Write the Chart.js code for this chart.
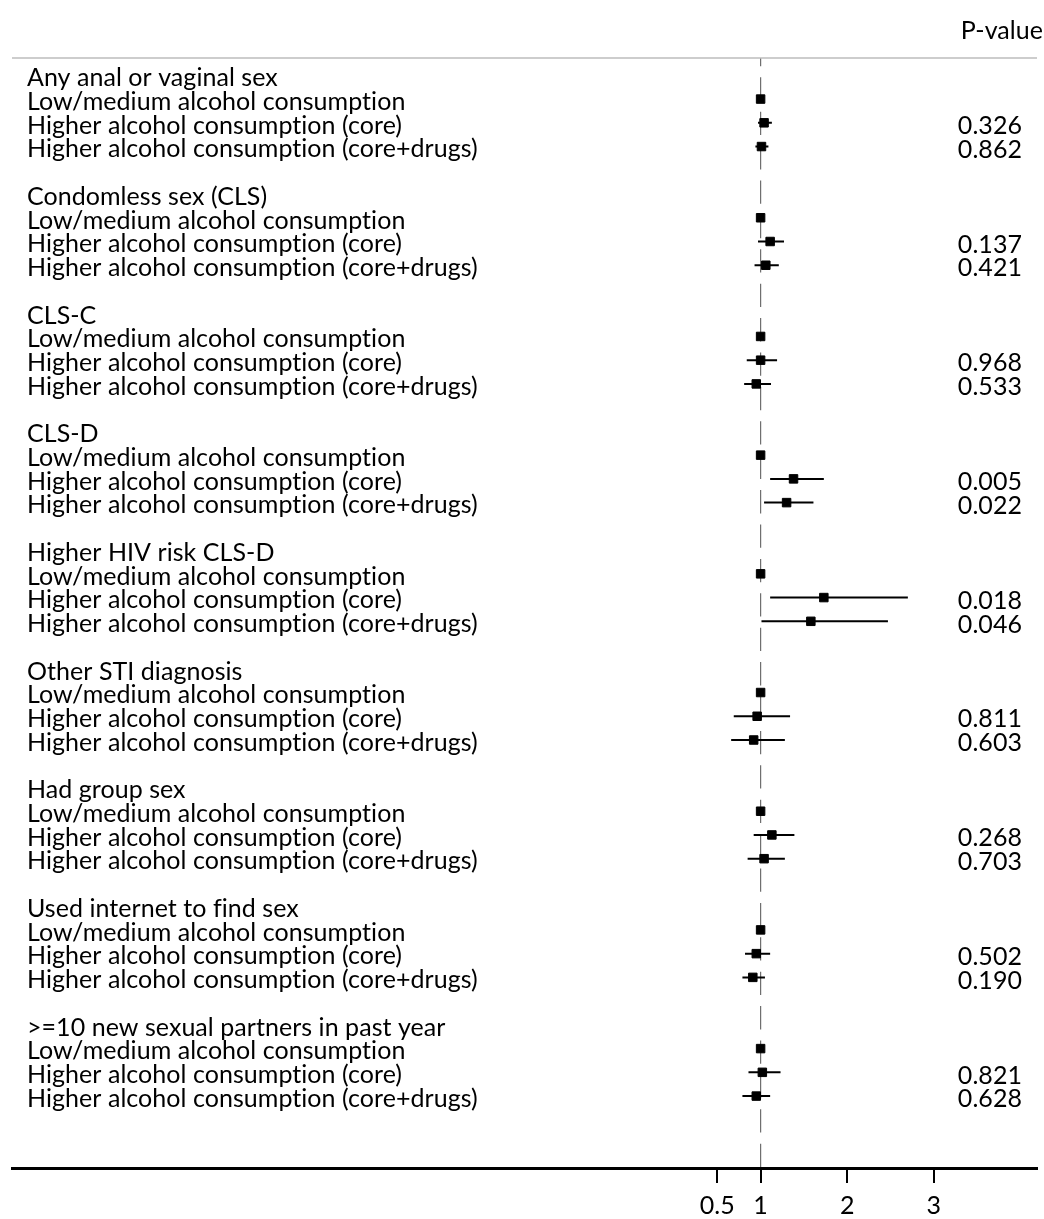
<!DOCTYPE html>
<html>
<head>
<meta charset="utf-8">
<script src="https://cdn.jsdelivr.net/npm/chart.js@4/dist/chart.umd.min.js"></script>
<style>
  html, body { margin: 0; padding: 0; background: #fff; }
  canvas { display: block; }
</style>
</head>
<body>
<canvas id="forest" width="1044" height="1219"></canvas>
<script>
// outcomes (one block of rows each) and the three exposure rows
const outcomes = ['Any anal or vaginal sex', 'Condomless sex (CLS)', 'CLS-C', 'CLS-D',
    'Higher HIV risk CLS-D', 'Other STI diagnosis', 'Had group sex',
    'Used internet to find sex', '>=10 new sexual partners in past year'];
const exposures = ['Low/medium alcohol consumption', 'Higher alcohol consumption (core)',
    'Higher alcohol consumption (core+drugs)'];

// reference category
const refOR = 1;

// higher alcohol consumption (core)
const orCore = [1.04, 1.11, 1.00, 1.38, 1.73, 0.96, 1.13, 0.95, 1.02];
const loCore = [0.97, 0.97, 0.84, 1.11, 1.11, 0.69, 0.92, 0.82, 0.86];
const hiCore = [1.13, 1.27, 1.19, 1.73, 2.70, 1.34, 1.39, 1.11, 1.23];
const pCore = ['0.326', '0.137', '0.968', '0.005', '0.018', '0.811', '0.268', '0.502', '0.821'];

// higher alcohol consumption (core+drugs)
const orDrugs = [1.01, 1.06, 0.95, 1.30, 1.58, 0.92, 1.04, 0.91, 0.95];
const loDrugs = [0.94, 0.93, 0.81, 1.04, 1.01, 0.66, 0.85, 0.79, 0.79];
const hiDrugs = [1.09, 1.21, 1.12, 1.61, 2.47, 1.28, 1.28, 1.05, 1.11];
const pDrugs = ['0.862', '0.421', '0.533', '0.022', '0.046', '0.603', '0.703', '0.190', '0.628'];

const xTicks = [0.5, 1, 2, 3];
const pHeader = 'P-value';

const ROWS_PER_BLOCK = 5;
const Y_MIN = -0.73;
const Y_MAX = 46.03;
const FONT = '25px Lato';

let rowOf = function (g, k) {
    return g * ROWS_PER_BLOCK + k;
};

let markers = [];
let ciLines = [];
outcomes.forEach(function (name, g) {
    markers.push({x: refOR, y: rowOf(g, 1)});
    markers.push({x: orCore[g], y: rowOf(g, 2)});
    markers.push({x: orDrugs[g], y: rowOf(g, 3)});
    ciLines.push({x: loCore[g], y: rowOf(g, 2)}, {x: hiCore[g], y: rowOf(g, 2)}, {x: null, y: null});
    ciLines.push({x: loDrugs[g], y: rowOf(g, 3)}, {x: hiDrugs[g], y: rowOf(g, 3)}, {x: null, y: null});
});

// row labels, p-values, header and the grey top rule
const textPlugin = {
    id: 'forestText',
    afterDraw: function (chart) {
        let ctx = chart.ctx;
        let yScale = chart.scales.y;
        let area = chart.chartArea;
        ctx.save();
        ctx.strokeStyle = '#bdbdbd';
        ctx.lineWidth = 1.6;
        ctx.beginPath();
        ctx.moveTo(area.left, area.top);
        ctx.lineTo(area.right, area.top);
        ctx.stroke();

        ctx.fillStyle = '#000';
        ctx.font = FONT;
        ctx.letterSpacing = '0.05px';   // no ligatures
        ctx.textBaseline = 'alphabetic';
        ctx.textAlign = 'right';
        ctx.fillText(pHeader, 1043, 39);

        outcomes.forEach(function (name, g) {
            ctx.textAlign = 'left';
            ctx.fillText(name, 27, yScale.getPixelForValue(rowOf(g, 0)) + 10.8);
            exposures.forEach(function (lab, k) {
                ctx.fillText(lab, 27, yScale.getPixelForValue(rowOf(g, k + 1)) + 10.8);
            });
            ctx.textAlign = 'right';
            ctx.fillText(pCore[g], 1022, yScale.getPixelForValue(rowOf(g, 2)) + 11.2);
            ctx.fillText(pDrugs[g], 1022, yScale.getPixelForValue(rowOf(g, 3)) + 11.2);
        });
        ctx.restore();
    }
};

let chart = new Chart(document.getElementById('forest').getContext('2d'), {
    type: 'scatter',
    data: {
        datasets: [
            {
                label: 'OR',
                data: markers,
                pointStyle: 'rect',
                pointRadius: 6,
                pointBorderWidth: 1,
                pointBackgroundColor: '#000',
                pointBorderColor: '#000',
                showLine: false
            },
            {
                label: 'CI',
                data: ciLines,
                showLine: true,
                spanGaps: false,
                borderColor: '#000',
                borderWidth: 2,
                pointRadius: 0
            },
            {
                label: 'null',
                data: [{x: refOR, y: Y_MIN}, {x: refOR, y: Y_MAX}],
                showLine: true,
                borderColor: '#6e6e6e',
                borderWidth: 1.2,
                borderDash: [23.3, 11.1],
                borderDashOffset: 15.1,
                pointRadius: 0
            }
        ]
    },
    options: {
        responsive: false,
        animation: false,
        layout: {padding: {left: 12, top: 58, right: 0, bottom: 0}},
        plugins: {legend: {display: false}, tooltip: {enabled: false}},
        scales: {
            x: {
                type: 'linear',
                min: -7.643,
                max: 4.191,
                afterBuildTicks: function (scale) {
                    scale.ticks = xTicks.map(function (v) { return {value: v}; });
                },
                afterFit: function (scale) {
                    scale.height = 51;
                },
                grid: {
                    drawOnChartArea: false,
                    drawTicks: true,
                    tickLength: 15,
                    color: '#000',
                    lineWidth: 2
                },
                border: {display: true, color: '#000', width: 3},
                ticks: {
                    color: '#000',
                    padding: 8,
                    maxRotation: 0,
                    font: {family: 'Lato', size: 25},
                    callback: function (v) { return String(v); }
                }
            },
            y: {
                type: 'linear',
                display: false,
                reverse: true,
                min: Y_MIN,
                max: Y_MAX
            }
        }
    },
    plugins: [textPlugin]
});
</script>
</body>
</html>
